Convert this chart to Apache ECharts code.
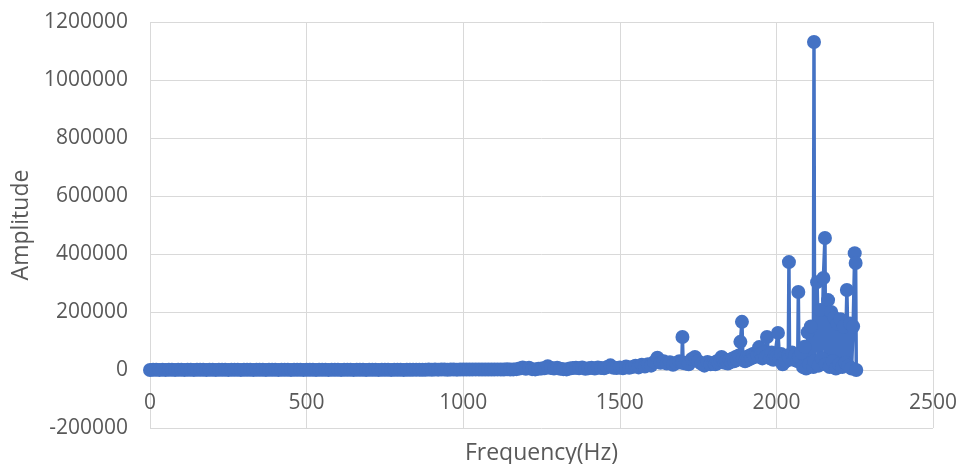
<!DOCTYPE html>
<html>
<head>
<meta charset="utf-8">
<script src="https://cdn.jsdelivr.net/npm/echarts@6/dist/echarts.min.js"></script>
<style>
	html, body { margin: 0; padding: 0; background: #fff; }
	#main { width: 959px; height: 464px; }
</style>
</head>
<body>
<div id="main"></div>
<script>
// [frequency(Hz), amplitude]
// 0 - 1150 Hz: flat, everything sits on zero
let lowPoints = [
	[0, 0], [10, 500], [20, 800], [30, 400], [40, 600], [50, 300], [60, 700], [70, 500], [80, 400], [90, 900],
	[100, 600], [110, 300], [120, 500], [130, 800], [140, 400], [150, 600], [160, 700], [170, 500], [180, 300], [190, 800],
	[200, 600], [210, 400], [220, 900], [230, 500], [240, 700], [250, 400], [260, 600], [270, 800], [280, 500], [290, 300],
	[300, 700], [310, 900], [320, 600], [330, 400], [340, 800], [350, 500], [360, 700], [370, 400], [380, 600], [390, 800],
	[400, 500], [410, 300], [420, 700], [430, 900], [440, 600], [450, 400], [460, 800], [470, 500], [480, 700], [490, 400],
	[500, 600], [510, 800], [520, 500], [530, 300], [540, 700], [550, 900], [560, 600], [570, 400], [580, 800], [590, 500],
	[600, 700], [610, 400], [620, 600], [630, 800], [640, 500], [650, 300], [660, 700], [670, 900], [680, 600], [690, 400],
	[700, 800], [710, 500], [720, 700], [730, 400], [740, 600], [750, 800], [760, 500], [770, 300], [780, 700], [790, 900],
	[800, 600], [810, 400], [820, 800], [830, 1000], [840, 700], [850, 1200], [860, 900], [870, 1100], [880, 800], [890, 1300],
	[900, 1000], [910, 1500], [920, 1200], [930, 1800], [940, 1500], [950, 1100], [960, 1400], [970, 1700], [980, 1200], [990, 1500],
	[1000, 1300], [1010, 1800], [1020, 1400], [1030, 1600], [1040, 2000], [1050, 1500], [1060, 1700], [1070, 1300], [1080, 1900], [1090, 1600],
	[1100, 1800], [1110, 2100], [1120, 1500], [1130, 1900], [1140, 2200], [1150, 1700]
];

// 1160 - 1800 Hz: small bumps
let midPoints = [
	[1160, 2000], [1170, 3000], [1180, 5000], [1190, 9000], [1200, 4000], [1210, 8000], [1220, 3000],
	[1230, 2000], [1240, 4000], [1250, 5000], [1260, 6000], [1270, 13000], [1280, 7000], [1290, 5000],
	[1300, 8000], [1310, 4000], [1320, 3000], [1330, 2000], [1340, 5000], [1350, 7000], [1360, 8000],
	[1370, 6000], [1380, 9000], [1390, 4000], [1400, 6000], [1410, 8000], [1420, 5000], [1430, 9000],
	[1440, 7000], [1450, 6000], [1460, 10000], [1470, 16000], [1480, 8000], [1490, 7000], [1500, 9000],
	[1510, 6000], [1520, 12000], [1530, 8000], [1540, 10000], [1550, 15000], [1560, 9000], [1570, 18000],
	[1580, 12000], [1590, 20000], [1600, 15000], [1610, 28000], [1620, 42000], [1630, 25000], [1640, 30000],
	[1650, 22000], [1660, 27000], [1670, 18000], [1680, 24000], [1690, 30000], [1698, 25000], [1700, 114000],
	[1702, 26000], [1710, 22000], [1720, 20000], [1730, 38000], [1740, 45000], [1750, 30000], [1760, 22000],
	[1770, 15000], [1780, 28000], [1790, 20000], [1800, 25000]
];

// 1805 - 2255 Hz: the peaks
let highPoints = [
	[1805, 20000], [1810, 30000], [1815, 25000], [1820, 35000], [1825, 45000], [1830, 38000], [1835, 25000],
	[1840, 30000], [1845, 22000], [1850, 35000], [1855, 28000], [1860, 40000], [1865, 30000], [1870, 45000],
	[1875, 35000], [1880, 50000], [1885, 97000], [1890, 166000], [1893, 40000], [1900, 30000], [1905, 45000],
	[1910, 35000], [1915, 50000], [1920, 40000], [1925, 55000], [1930, 45000], [1935, 60000], [1940, 50000],
	[1945, 79000], [1950, 55000], [1955, 40000], [1960, 60000], [1965, 45000], [1970, 114000], [1975, 50000],
	[1980, 40000], [1985, 60000], [1990, 35000], [1995, 50000], [2000, 45000], [2005, 128000], [2010, 40000],
	[2015, 55000], [2020, 20000], [2025, 45000], [2030, 30000], [2038, 50000], [2040, 372000], [2042, 40000],
	[2050, 60000], [2055, 35000], [2060, 50000], [2068, 30000], [2070, 269000], [2072, 45000], [2080, 60000],
	[2085, 10000], [2090, 80000], [2095, 5000], [2100, 130000], [2105, 20000], [2110, 150000], [2118, 10000],
	[2120, 1131000], [2122, 30000], [2130, 303000], [2135, 15000], [2140, 207000], [2145, 40000], [2150, 317000],
	[2155, 455000], [2157, 20000], [2165, 241000], [2170, 10000], [2175, 200000], [2180, 30000], [2185, 180000],
	[2190, 5000], [2195, 160000], [2200, 20000], [2205, 175000], [2210, 10000], [2215, 150000], [2220, 25000],
	[2225, 276000], [2230, 15000], [2235, 160000], [2240, 5000], [2245, 150000], [2250, 403000], [2253, 369000],
	[2255, 0]
];

let xTicks = { min: 0, max: 2500, step: 500 };
let yTicks = { min: -200000, max: 1200000, step: 200000 };

let chart = echarts.init(document.getElementById('main'));

let textColor = '#595959';
let gridColor = '#d9d9d9';
let font = 'Open Sans';
let blue = '#4472C4';

let option = {
	animation: false,
	backgroundColor: '#fff',
	grid: {
		left: 150,
		right: 26,
		top: 22,
		bottom: 36,
		containLabel: false,
		outerBoundsMode: 'none'
	},
	xAxis: {
		type: 'value',
		min: xTicks.min,
		max: xTicks.max,
		interval: xTicks.step,
		name: 'Frequency(Hz)',
		nameLocation: 'middle',
		nameGap: 14,
		nameTextStyle: { color: textColor, fontSize: 23, fontFamily: font },
		axisLine: { show: false, onZero: false },
		axisTick: { show: false },
		// labels sit just under the zero line, like the original
		axisLabel: { color: textColor, fontSize: 21, fontFamily: font, margin: -35, formatter: v => String(v) },
		splitLine: { show: true, lineStyle: { color: gridColor, width: 1 } }
	},
	yAxis: {
		type: 'value',
		min: yTicks.min,
		max: yTicks.max,
		interval: yTicks.step,
		name: 'Amplitude',
		nameLocation: 'middle',
		nameGap: 96,
		nameTextStyle: { color: textColor, fontSize: 23, fontFamily: font },
		axisLine: { show: false },
		axisTick: { show: false },
		axisLabel: { color: textColor, fontSize: 21, fontFamily: font, margin: 22, formatter: v => String(v) },
		splitLine: { show: true, lineStyle: { color: gridColor, width: 1 } }
	},
	series: [{
		type: 'line',
		data: lowPoints.concat(midPoints, highPoints),
		symbol: 'circle',
		symbolSize: 14,
		showAllSymbol: true,
		color: blue,
		lineStyle: { width: 3.5, color: blue },
		itemStyle: { color: blue, borderWidth: 0 },
		emphasis: { disabled: true }
	}]
};

chart.setOption(option);
</script>
</body>
</html>
